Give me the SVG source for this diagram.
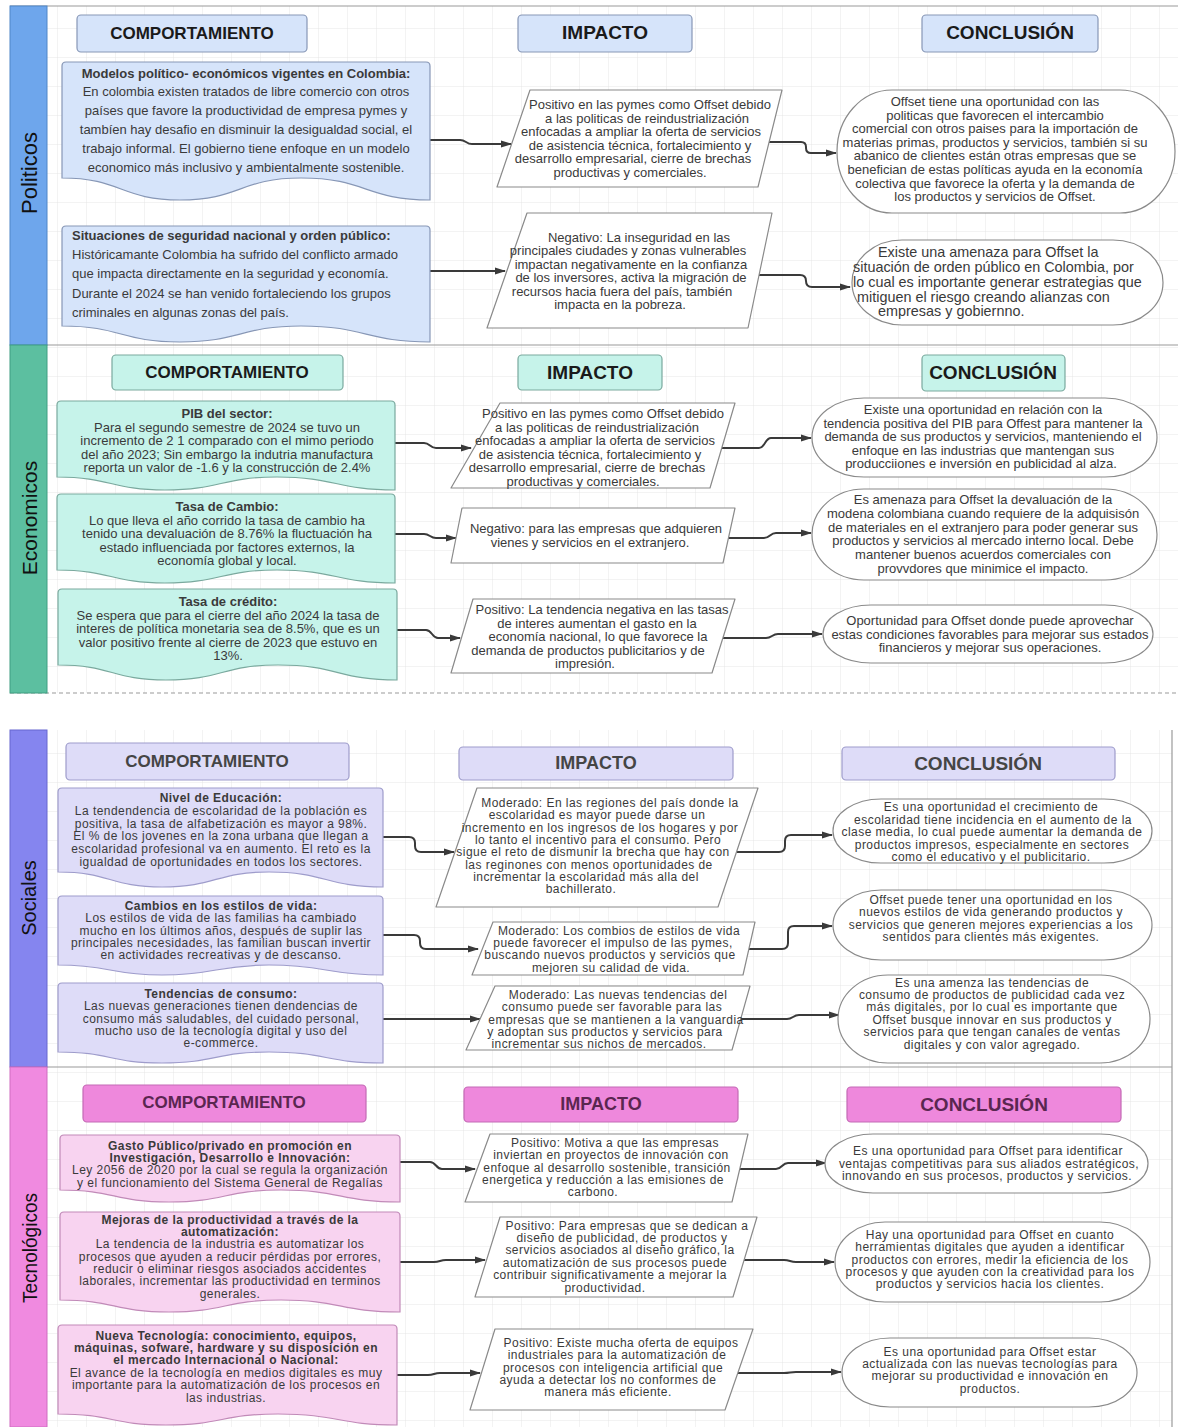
<svg xmlns="http://www.w3.org/2000/svg" width="1178" height="1427" viewBox="0 0 1178 1427">
<style>
text{font-family:"Liberation Sans",Arial,Helvetica,sans-serif;dominant-baseline:central}
.t{font-size:13px;fill:#3a3a3a;text-anchor:middle}
.d{font-size:12px;letter-spacing:0.45px}
.l{text-anchor:start}
.b{font-weight:bold}
.h{font-weight:bold;text-anchor:middle}
.lane{font-size:22px;fill:#111;text-anchor:middle}
.imp{fill:#fff;stroke:#8a8a8a;stroke-width:1.2;stroke-linejoin:round}
.con{fill:#fff;stroke:#8a8a8a;stroke-width:1.2}
.pol{fill:#d6e4fa;stroke:#8797b6;stroke-width:1.2}
.eco{fill:#c6f3ea;stroke:#7aa99e;stroke-width:1.2}
.soc{fill:#dedcf8;stroke:#9e9ccb;stroke-width:1.2}
.tec{fill:#f8d3f0;stroke:#c18ab8;stroke-width:1.2}
.tech{fill:#ee88dc;stroke:#c46ab5;stroke-width:1.2}
.edge{fill:none;stroke:#3a3a3a;stroke-width:2;marker-end:url(#ah)}
.sep{stroke:#9a9a9a;stroke-width:1.2;fill:none}
</style>
<defs>
<pattern id="grid" width="29" height="29" patternUnits="userSpaceOnUse">
<path d="M29,0 V29 H0" fill="none" stroke="#e6e6e6" stroke-width="1"/>
</pattern>
<marker id="ah" viewBox="0 0 11 8" refX="10" refY="4" markerWidth="11" markerHeight="8" markerUnits="userSpaceOnUse" orient="auto">
<path d="M0,0.5 L11,4 L0,7.5 z" fill="#3a3a3a"/>
</marker>
</defs>
<rect width="1178" height="1427" fill="#fff"/>
<rect x="47" y="6" width="1131" height="687" fill="url(#grid)"/>
<rect x="47" y="730" width="1125" height="697" fill="url(#grid)"/>
<g id="lanes">
<line class="sep" x1="10" y1="6" x2="1178" y2="6"/>
<line class="sep" x1="10" y1="345" x2="1178" y2="345"/>
<line class="sep" x1="10" y1="693" x2="1178" y2="693" stroke-dasharray="4 3"/>
<line class="sep" x1="10" y1="1067" x2="1172" y2="1067"/>
<line class="sep" x1="1172" y1="730" x2="1172" y2="1427"/>
<rect x="10" y="6" width="37" height="339" fill="#6ea6ec" stroke="#4f86c8"/>
<rect x="10" y="345" width="37" height="348" fill="#5cbfa0" stroke="#3f9e82"/>
<rect x="10" y="730" width="37" height="337" fill="#8585ef" stroke="#6767cf"/>
<rect x="10" y="1067" width="37" height="360" fill="#f08ae0" stroke="#cf6cc0"/>
<text class="lane" transform="translate(29,173) rotate(-90)">Politicos</text>
<text class="lane" transform="translate(29,518) rotate(-90)" style="font-size:21px">Economicos</text>
<text class="lane" transform="translate(29,898) rotate(-90)" style="font-size:20px">Sociales</text>
<text class="lane" transform="translate(29,1248) rotate(-90)" style="font-size:21px" textLength="110" lengthAdjust="spacingAndGlyphs">Tecnológicos</text>
</g>

<g id="headers">
<g id="h-pol-comp"><rect class="pol" x="77" y="15" width="230" height="37" rx="4"/><text class="h" x="192" y="33" font-size="17" fill="#1a1a1a">COMPORTAMIENTO</text></g>
<g id="h-pol-imp"><rect class="pol" x="518" y="15" width="174" height="37" rx="4"/><text class="h" x="605" y="32" font-size="19" fill="#1a1a1a">IMPACTO</text></g>
<g id="h-pol-conc"><rect class="pol" x="922" y="15" width="176" height="37" rx="4"/><text class="h" x="1010" y="32" font-size="19" fill="#1a1a1a">CONCLUSIÓN</text></g>
<g id="h-eco-comp"><rect class="eco" x="112" y="355" width="231" height="35" rx="4"/><text class="h" x="227" y="372" font-size="17" fill="#1a1a1a">COMPORTAMIENTO</text></g>
<g id="h-eco-imp"><rect class="eco" x="518" y="355" width="144" height="35" rx="4"/><text class="h" x="590" y="372" font-size="19" fill="#1a1a1a">IMPACTO</text></g>
<g id="h-eco-conc"><rect class="eco" x="922" y="355" width="143" height="36" rx="4"/><text class="h" x="993" y="372" font-size="19" fill="#1a1a1a">CONCLUSIÓN</text></g>
<g id="h-soc-comp"><rect class="soc" x="66" y="743" width="283" height="37" rx="4"/><text class="h" x="207" y="761" font-size="17" fill="#454545">COMPORTAMIENTO</text></g>
<g id="h-soc-imp"><rect class="soc" x="459" y="747" width="274" height="33" rx="4"/><text class="h" x="596" y="763" font-size="18" fill="#454545">IMPACTO</text></g>
<g id="h-soc-conc"><rect class="soc" x="842" y="747" width="273" height="33" rx="4"/><text class="h" x="978" y="763" font-size="19" fill="#454545">CONCLUSIÓN</text></g>
<g id="h-tec-comp"><rect class="tech" x="83" y="1085" width="283" height="37" rx="4"/><text class="h" x="224" y="1102" font-size="17" fill="#5a2650">COMPORTAMIENTO</text></g>
<g id="h-tec-imp"><rect class="tech" x="464" y="1087" width="274" height="35" rx="4"/><text class="h" x="601" y="1104" font-size="18" fill="#5a2650">IMPACTO</text></g>
<g id="h-tec-conc"><rect class="tech" x="847" y="1087" width="274" height="35" rx="4"/><text class="h" x="984" y="1104" font-size="19" fill="#5a2650">CONCLUSIÓN</text></g>
</g>

<g id="connectors">
<path class="edge" d="M430,140 H460 C466,140 466,144 472,144 H511"/>
<path class="edge" d="M769,142 H801 Q806,142 806,147 V148 Q806,153 811,153 H836"/>
<path class="edge" d="M430,271 H505"/>
<path class="edge" d="M759,275 H800 Q806,275 806,281 Q806,287 812,287 H850"/>
<path class="edge" d="M395,443 H424 C430,443 430,448 436,448 H471"/>
<path class="edge" d="M722,448 H759 C765,448 765,438 771,438 H811"/>
<path class="edge" d="M395,534 H424 C430,534 430,538 436,538 H456"/>
<path class="edge" d="M728,538 H764 C770,538 770,533 776,533 H811"/>
<path class="edge" d="M397,630 H426 C432,630 432,638 438,638 H460"/>
<path class="edge" d="M723,638 H766 C772,638 772,634 778,634 H822"/>
<path class="edge" d="M383,837 H409 Q415,837 415,843 V846 Q415,852 421,852 H454"/>
<path class="edge" d="M737,852 H779 Q785,852 785,846 V841 Q785,835 791,835 H832"/>
<path class="edge" d="M383,935 H414 Q420,935 420,941 V943 Q420,949 426,949 H478"/>
<path class="edge" d="M749,949 H782 Q788,949 788,943 V932 Q788,926 794,926 H832"/>
<path class="edge" d="M383,1019 H480"/>
<path class="edge" d="M741,1019 H787 C793,1019 793,1015 799,1015 H839"/>
<path class="edge" d="M400,1162 H430 C436,1162 436,1169 442,1169 H475"/>
<path class="edge" d="M740,1169 H776 C782,1169 782,1163 788,1163 H826"/>
<path class="edge" d="M400,1262 H434 C440,1262 440,1260 446,1260 H485"/>
<path class="edge" d="M744,1260 H784 C790,1260 790,1262 796,1262 H834"/>
<path class="edge" d="M397,1375 H428 C434,1375 434,1373 440,1373 H480"/>
<path class="edge" d="M738,1373 H784 C790,1373 790,1372 796,1372 H841"/>
</g>

<!-- POLITICOS -->
<g id="pol-b1">
<path class="pol" d="M66,62 H426 Q430,62 430,66 V200 C366,200 366,178 301,178 C240,178 240,200 180,200 C121,200 121,178 62,178 V66 Q62,62 66,62 Z"/>
<text class="t"><tspan class="b" x="246" y="73">Modelos político- económicos vigentes en Colombia:</tspan><tspan x="246" y="91">En colombia existen  tratados de libre comercio con otros</tspan><tspan x="246" y="110">países que favore la productividad de empresa pymes y</tspan><tspan x="246" y="129">tambíen hay desafio en disminuir la desigualdad social, el</tspan><tspan x="246" y="148">trabajo informal. El gobierno tiene enfoque en un modelo</tspan><tspan x="246" y="167">economico más inclusivo  y ambientalmente sostenible.</tspan></text>
</g>
<g id="pol-b2">
<path class="pol" d="M66,226 H426 Q430,226 430,230 V342 C366,342 366,326 301,326 C240,326 240,342 180,342 C121,342 121,326 62,326 V230 Q62,226 66,226 Z"/>
<text class="t l"><tspan class="b" x="72" y="235">Situaciones de seguridad nacional y orden público:</tspan><tspan x="72" y="254">Históricamante Colombia ha sufrido del conflicto armado</tspan><tspan x="72" y="273">que impacta directamente en la seguridad y economía.</tspan><tspan x="72" y="293">Durante el 2024 se han venido fortaleciendo los grupos</tspan><tspan x="72" y="312">criminales en algunas zonas del país.</tspan></text>
</g>
<g id="pol-i1">
<polygon class="imp" points="530,90 782,90 758,187 497,187"/>
<text class="t"><tspan x="650" y="104">Positivo en las pymes como Offset debido</tspan><tspan x="647" y="117.5">a las politicas de reindustrialización</tspan><tspan x="641" y="131">enfocadas a ampliar la oferta de servicios</tspan><tspan x="640" y="144.5">de asistencia técnica, fortalecimiento y</tspan><tspan x="633" y="158">desarrollo empresarial, cierre de brechas</tspan><tspan x="630" y="171.5">productivas y comerciales.</tspan></text>
</g>
<g id="pol-i2">
<polygon class="imp" points="527,213 772,213 748,328 487,328"/>
<text class="t"><tspan x="639" y="237">Negativo: La inseguridad en las</tspan><tspan x="628" y="250.4">principales ciudades y zonas vulnerables</tspan><tspan x="631" y="263.8">impactan negativamente en la confianza</tspan><tspan x="631" y="277.2">de los inversores, activa la migración de</tspan><tspan x="622" y="290.6">recursos hacia fuera del país, también</tspan><tspan x="620" y="304">impacta en la pobreza.</tspan></text>
</g>
<g id="pol-c1">
<rect class="con" x="837" y="90" width="338" height="123" rx="55" ry="61.5"/>
<text class="t"><tspan x="995" y="101">Offset tiene una oportunidad con las</tspan><tspan x="995" y="114.6">politicas que favorecen el intercambio</tspan><tspan x="995" y="128.2">comercial con otros paises para la importación de</tspan><tspan x="995" y="141.8">materias primas, productos y servicios, también si su</tspan><tspan x="995" y="155.4">abanico de clientes están otras empresas que se</tspan><tspan x="995" y="169">benefician de estas políticas ayuda en la economía</tspan><tspan x="995" y="182.6">colectiva que favorece la oferta y la demanda de</tspan><tspan x="995" y="196.2">los productos y servicios de Offset.</tspan></text>
</g>
<g id="pol-c2">
<rect class="con" x="852" y="240" width="311" height="85" rx="50" ry="42.5"/>
<text class="t l" style="font-size:14.4px"><tspan x="878" y="252">Existe una amenaza para Offset la</tspan><tspan x="853" y="267">situación de orden público en Colombia, por</tspan><tspan x="853" y="282">lo cual es importante generar estrategias que</tspan><tspan x="857" y="297">mitiguen el riesgo creando alianzas con</tspan><tspan x="878" y="311">empresas y gobiernno.</tspan></text>
</g>

<!-- ECONOMICOS -->
<g id="eco-b1">
<path class="eco" d="M61,401 H391 Q395,401 395,405 V490 C336,490 336,477 277,477 C221,477 221,490 165,490 C111,490 111,477 57,477 V405 Q57,401 61,401 Z"/>
<text class="t"><tspan class="b" x="227" y="413">PIB del sector:</tspan><tspan x="227" y="426.6">Para el segundo semestre de 2024 se tuvo un</tspan><tspan x="227" y="440.2">incremento de 2 1 comparado con el mimo periodo</tspan><tspan x="227" y="453.8">del año 2023; Sin embargo la indutria manufactura</tspan><tspan x="227" y="467.4">reporta un valor  de -1.6 y la construcción  de 2.4%</tspan></text>
</g>
<g id="eco-b2">
<path class="eco" d="M61,494 H391 Q395,494 395,498 V583 C336,583 336,570 277,570 C221,570 221,583 165,583 C111,583 111,570 57,570 V498 Q57,494 61,494 Z"/>
<text class="t"><tspan class="b" x="227" y="506">Tasa de Cambio:</tspan><tspan x="227" y="519.6">Lo que lleva el año corrido la tasa de cambio ha</tspan><tspan x="227" y="533.2">tenido una devaluación de 8.76% la fluctuación ha</tspan><tspan x="227" y="546.8">estado influenciada por factores externos, la</tspan><tspan x="227" y="560.4">economía global y local.</tspan></text>
</g>
<g id="eco-b3">
<path class="eco" d="M62,589 H393 Q397,589 397,593 V680 C338,680 338,665 278,665 C222,665 222,680 166,680 C112,680 112,665 58,665 V593 Q58,589 62,589 Z"/>
<text class="t"><tspan class="b" x="228" y="601">Tasa de crédito:</tspan><tspan x="228" y="614.6">Se espera que para el cierre del año 2024 la tasa de</tspan><tspan x="228" y="628.2">interes de política monetaria sea de 8.5%, que es un</tspan><tspan x="228" y="641.8">valor positivo frente al cierre de 2023 que estuvo en</tspan><tspan x="228" y="655.4">13%.</tspan></text>
</g>
<g id="eco-i1">
<polygon class="imp" points="500,403 735,403 710,488 451,488"/>
<text class="t"><tspan x="603" y="413">Positivo en las pymes como Offset debido</tspan><tspan x="597" y="426.5">a las politicas de reindustrialización</tspan><tspan x="595" y="440">enfocadas a ampliar la oferta de servicios</tspan><tspan x="590" y="453.5">de asistencia técnica, fortalecimiento y</tspan><tspan x="587" y="467">desarrollo empresarial, cierre de brechas</tspan><tspan x="583" y="480.5">productivas y comerciales.</tspan></text>
</g>
<g id="eco-i2">
<polygon class="imp" points="462,508 735,508 723,563 451,563"/>
<text class="t"><tspan x="596" y="528">Negativo: para las empresas que adquieren</tspan><tspan x="590" y="542">vienes y servicios en el extranjero.</tspan></text>
</g>
<g id="eco-i3">
<polygon class="imp" points="473,599 735,599 712,673 451,673"/>
<text class="t"><tspan x="602" y="609">Positivo: La tendencia negativa en las tasas</tspan><tspan x="597" y="622.5">de interes aumentan el gasto en la</tspan><tspan x="598" y="636">economía nacional, lo que favorece la</tspan><tspan x="588" y="649.5">demanda de productos publicitarios y de</tspan><tspan x="585" y="663">impresión.</tspan></text>
</g>
<g id="eco-c1">
<rect class="con" x="812" y="398" width="345" height="79" rx="52" ry="39.5"/>
<text class="t"><tspan x="983" y="409">Existe una oportunidad en relación con la</tspan><tspan x="983" y="422.5">tendencia positiva del PIB para Offest para mantener la</tspan><tspan x="983" y="436">demanda de sus productos y servicios, manteniendo el</tspan><tspan x="983" y="449.5">enfoque en las industrias que mantengan sus</tspan><tspan x="981" y="463">producciiones e inversión en publicidad al alza.</tspan></text>
</g>
<g id="eco-c2">
<rect class="con" x="812" y="489" width="345" height="91" rx="52" ry="45.5"/>
<text class="t"><tspan x="983" y="499">Es amenaza para Offset la devaluación de la</tspan><tspan x="983" y="512.8">modena colombiana cuando requiere de la adquisisón</tspan><tspan x="983" y="526.6">de materiales en el extranjero para poder generar sus</tspan><tspan x="983" y="540.4">productos y servicios al mercado interno local.  Debe</tspan><tspan x="983" y="554.2">mantener buenos acuerdos comerciales con</tspan><tspan x="983" y="568">provvdores que minimice el impacto.</tspan></text>
</g>
<g id="eco-c3">
<rect class="con" x="823" y="605" width="330" height="58" rx="48" ry="29"/>
<text class="t"><tspan x="990" y="620">Oportunidad para Offset donde puede aprovechar</tspan><tspan x="990" y="633.5">estas condiciones favorables para mejorar sus estados</tspan><tspan x="990" y="647">financieros y mejorar sus operaciones.</tspan></text>
</g>

<!-- SOCIALES -->
<g id="soc-b1">
<path class="soc" d="M62,788 H379 Q383,788 383,792 V887 C326,887 326,872 269,872 C216,872 216,887 162,887 C110,887 110,872 58,872 V792 Q58,788 62,788 Z"/>
<text class="t d"><tspan class="b" x="221" y="798">Nivel de Educación:</tspan><tspan x="221" y="810.8">La tendendencia de escolaridad de la población es</tspan><tspan x="221" y="823.6">positiva, la tasa de alfabetización es mayor a 98%.</tspan><tspan x="221" y="836.4">El % de los jovenes en la zona urbana que llegan a</tspan><tspan x="221" y="849.2">escolaridad profesional va en aumento. El reto es la</tspan><tspan x="221" y="862">igualdad de oportunidades en todos los sectores.</tspan></text>
</g>
<g id="soc-b2">
<path class="soc" d="M62,896 H379 Q383,896 383,900 V975 C326,975 326,965 269,965 C216,965 216,975 162,975 C110,975 110,965 58,965 V900 Q58,896 62,896 Z"/>
<text class="t d"><tspan class="b" x="221" y="906">Cambios en los estilos de vida:</tspan><tspan x="221" y="918.3">Los estilos de vida de las familias ha cambiado</tspan><tspan x="221" y="930.5">mucho en los últimos años, después de suplir las</tspan><tspan x="221" y="942.8">principales necesidades, las familian buscan invertir</tspan><tspan x="221" y="955">en actividades recreativas y de descanso.</tspan></text>
</g>
<g id="soc-b3">
<path class="soc" d="M62,983 H379 Q383,983 383,987 V1063 C326,1063 326,1052 269,1052 C216,1052 216,1063 162,1063 C110,1063 110,1052 58,1052 V987 Q58,983 62,983 Z"/>
<text class="t d"><tspan class="b" x="221" y="994">Tendencias de consumo:</tspan><tspan x="221" y="1006.3">Las nuevas generaciones tienen dendencias de</tspan><tspan x="221" y="1018.5">consumo más saludables, del cuidado personal,</tspan><tspan x="221" y="1030.8">mucho uso de la tecnología digital y uso del</tspan><tspan x="221" y="1043">e-commerce.</tspan></text>
</g>
<g id="soc-i1">
<polygon class="imp" points="477,788 758,788 718,907 436,907"/>
<text class="t d"><tspan x="610" y="803">Moderado: En las regiones del país donde la</tspan><tspan x="597" y="815.3">escolaridad es mayor puede darse un</tspan><tspan x="600" y="827.6">incremento en los ingresos de los hogares y por</tspan><tspan x="598" y="839.9">lo tanto el incentivo para el consumo. Pero</tspan><tspan x="593" y="852.2">sigue el reto de dismunir la brecha que hay con</tspan><tspan x="589" y="864.5">las reginones con menos oportunidades de</tspan><tspan x="586" y="876.8">incrementar la escolaridad más alla del</tspan><tspan x="581" y="889.1">bachillerato.</tspan></text>
</g>
<g id="soc-i2">
<polygon class="imp" points="493,922 755,922 743,975 472,975"/>
<text class="t d"><tspan x="619" y="930.5">Moderado: Los combios de estilos de vida</tspan><tspan x="613" y="942.8">puede favorecer el impulso de las pymes,</tspan><tspan x="610" y="955.2">buscando nuevos productos y servicios que</tspan><tspan x="611" y="967.5">mejoren su calidad de vida.</tspan></text>
</g>
<g id="soc-i3">
<polygon class="imp" points="495,986 750,986 732,1050 466,1050"/>
<text class="t d"><tspan x="618" y="995">Moderado: Las nuevas tendencias del</tspan><tspan x="612" y="1007.3">consumo puede ser favorable para las</tspan><tspan x="616" y="1019.5">empresas que se mantienen a la vanguardia</tspan><tspan x="605" y="1031.8">y adoptan sus productos y servicios para</tspan><tspan x="599" y="1044">incrementar sus nichos de mercados.</tspan></text>
</g>
<g id="soc-c1">
<rect class="con" x="833" y="799" width="319" height="64" rx="48" ry="32"/>
<text class="t d"><tspan x="991" y="807">Es una oportunidad el crecimiento de</tspan><tspan x="993" y="819.5">escolaridad tiene incidencia en  el aumento de la</tspan><tspan x="992" y="832">clase media, lo cual puede aumentar la demanda de</tspan><tspan x="992" y="844.5">productos impresos, especialmente en sectores</tspan><tspan x="991" y="857">como el educativo y el publicitario.</tspan></text>
</g>
<g id="soc-c2">
<rect class="con" x="833" y="890" width="319" height="70" rx="48" ry="35"/>
<text class="t d"><tspan x="991" y="900">Offset puede tener una oportunidad en los</tspan><tspan x="991" y="912.3">nuevos estilos de vida generando productos y</tspan><tspan x="991" y="924.7">servicios que generen mejores experiencias a los</tspan><tspan x="991" y="937">sentidos para clientes más exigentes.</tspan></text>
</g>
<g id="soc-c3">
<rect class="con" x="838" y="975" width="312" height="88" rx="50" ry="44"/>
<text class="t d"><tspan x="992" y="982.5">Es una amenza las tendencias de</tspan><tspan x="992" y="994.9">consumo de productos de publicidad cada vez</tspan><tspan x="992" y="1007.3">más digitales, por lo cual es importante que</tspan><tspan x="992" y="1019.7">Offset busque innovar en sus productos y</tspan><tspan x="992" y="1032.1">servicios para que tengan canales de ventas</tspan><tspan x="992" y="1044.5">digitales y con valor agregado.</tspan></text>
</g>

<!-- TECNOLOGICOS -->
<g id="tec-b1">
<path class="tec" d="M64,1135 H396 Q400,1135 400,1139 V1202 C340,1202 340,1190 281,1190 C225,1190 225,1202 169,1202 C114,1202 114,1190 60,1190 V1139 Q60,1135 64,1135 Z"/>
<text class="t d"><tspan class="b" x="230" y="1145.5">Gasto Público/privado en promoción en</tspan><tspan class="b" x="230" y="1157.8">Investigación, Desarrollo e Innovación:</tspan><tspan x="230" y="1170.2">Ley 2056 de 2020 por la cual se regula la organización</tspan><tspan x="230" y="1182.5">y el funcionamiento del Sistema General de Regalías</tspan></text>
</g>
<g id="tec-b2">
<path class="tec" d="M64,1212 H396 Q400,1212 400,1216 V1312 C340,1312 340,1300 281,1300 C225,1300 225,1312 169,1312 C114,1312 114,1300 60,1300 V1216 Q60,1212 64,1212 Z"/>
<text class="t d"><tspan class="b" x="230" y="1219.5">Mejoras de la productividad a través de la</tspan><tspan class="b" x="230" y="1231.8">automatización:</tspan><tspan x="230" y="1244.2">La tendencia de la industria es automatizar los</tspan><tspan x="230" y="1256.5">procesos que ayuden a reducir pérdidas por errores,</tspan><tspan x="230" y="1268.8">reducir o eliminar riesgos asociados accidentes</tspan><tspan x="230" y="1281.2">laborales, incrementar las productividad en terminos</tspan><tspan x="230" y="1293.5">generales.</tspan></text>
</g>
<g id="tec-b3">
<path class="tec" d="M62,1325 H393 Q397,1325 397,1329 V1425 C338,1425 338,1414 278,1414 C222,1414 222,1425 166,1425 C112,1425 112,1414 58,1414 V1329 Q58,1325 62,1325 Z"/>
<text class="t d"><tspan class="b" x="226" y="1335.5">Nueva Tecnología: conocimiento, equipos,</tspan><tspan class="b" x="226" y="1347.9">máquinas, sofware, hardware y su disposición en</tspan><tspan class="b" x="226" y="1360.3">el mercado Internacional o Nacional:</tspan><tspan x="226" y="1372.7">El avance de la tecnología en medios digitales es muy</tspan><tspan x="226" y="1385.1">importante para la automatización de los procesos en</tspan><tspan x="226" y="1397.5">las industrias.</tspan></text>
</g>
<g id="tec-i1">
<polygon class="imp" points="490,1134 748,1134 732,1202 465,1202"/>
<text class="t d"><tspan x="615" y="1143">Positivo: Motiva a que las empresas</tspan><tspan x="611" y="1155.3">inviertan en proyectos de innovación con</tspan><tspan x="607" y="1167.5">enfoque al desarrollo sostenible, transición</tspan><tspan x="603" y="1179.8">energetica y reducción a las emisiones de</tspan><tspan x="593" y="1192">carbono.</tspan></text>
</g>
<g id="tec-i2">
<polygon class="imp" points="500,1217 757,1217 733,1297 475,1297"/>
<text class="t d"><tspan x="627" y="1225.5">Positivo: Para empresas que se dedican a</tspan><tspan x="622" y="1237.9">diseño de publicidad, de productos y</tspan><tspan x="620" y="1250.3">servicios asociados al diseño gráfico, la</tspan><tspan x="615" y="1262.7">automatización de sus procesos puede</tspan><tspan x="610" y="1275.1">contribuir significativamente a mejorar la</tspan><tspan x="605" y="1287.5">productividad.</tspan></text>
</g>
<g id="tec-i3">
<polygon class="imp" points="495,1329 753,1329 725,1410 470,1410"/>
<text class="t d"><tspan x="621" y="1343">Positivo: Existe mucha oferta de equipos</tspan><tspan x="617" y="1355.3">industriales para la automatización de</tspan><tspan x="613" y="1367.5">procesos con inteligencia artificial que</tspan><tspan x="608" y="1379.8">ayuda a detectar los no conformes de</tspan><tspan x="608" y="1392">manera más eficiente.</tspan></text>
</g>
<g id="tec-c1">
<rect class="con" x="825" y="1134" width="323" height="59" rx="48" ry="29.5"/>
<text class="t d"><tspan x="988" y="1151">Es una oportunidad para Offset para identificar</tspan><tspan x="989" y="1163.5">ventajas competitivas para sus aliados estratégicos,</tspan><tspan x="987" y="1176">innovando en sus procesos, productos y servicios.</tspan></text>
</g>
<g id="tec-c2">
<rect class="con" x="835" y="1222" width="315" height="80" rx="50" ry="40"/>
<text class="t d"><tspan x="990" y="1235">Hay una oportunidad para Offset en cuanto</tspan><tspan x="990" y="1247.3">herramientas digitales que ayuden a identificar</tspan><tspan x="990" y="1259.5">productos con errores, medir la eficiencia de los</tspan><tspan x="990" y="1271.8">procesos y que ayuden con la creatividad para los</tspan><tspan x="990" y="1284">productos y servicios hacia los clientes.</tspan></text>
</g>
<g id="tec-c3">
<rect class="con" x="842" y="1338" width="295" height="69" rx="48" ry="34.5"/>
<text class="t d"><tspan x="990" y="1351.5">Es una oportunidad para Offset estar</tspan><tspan x="990" y="1363.8">actualizada con las nuevas tecnologías para</tspan><tspan x="990" y="1376.2">mejorar su productividad e innovación en</tspan><tspan x="990" y="1388.5">productos.</tspan></text>
</g>
</svg>
